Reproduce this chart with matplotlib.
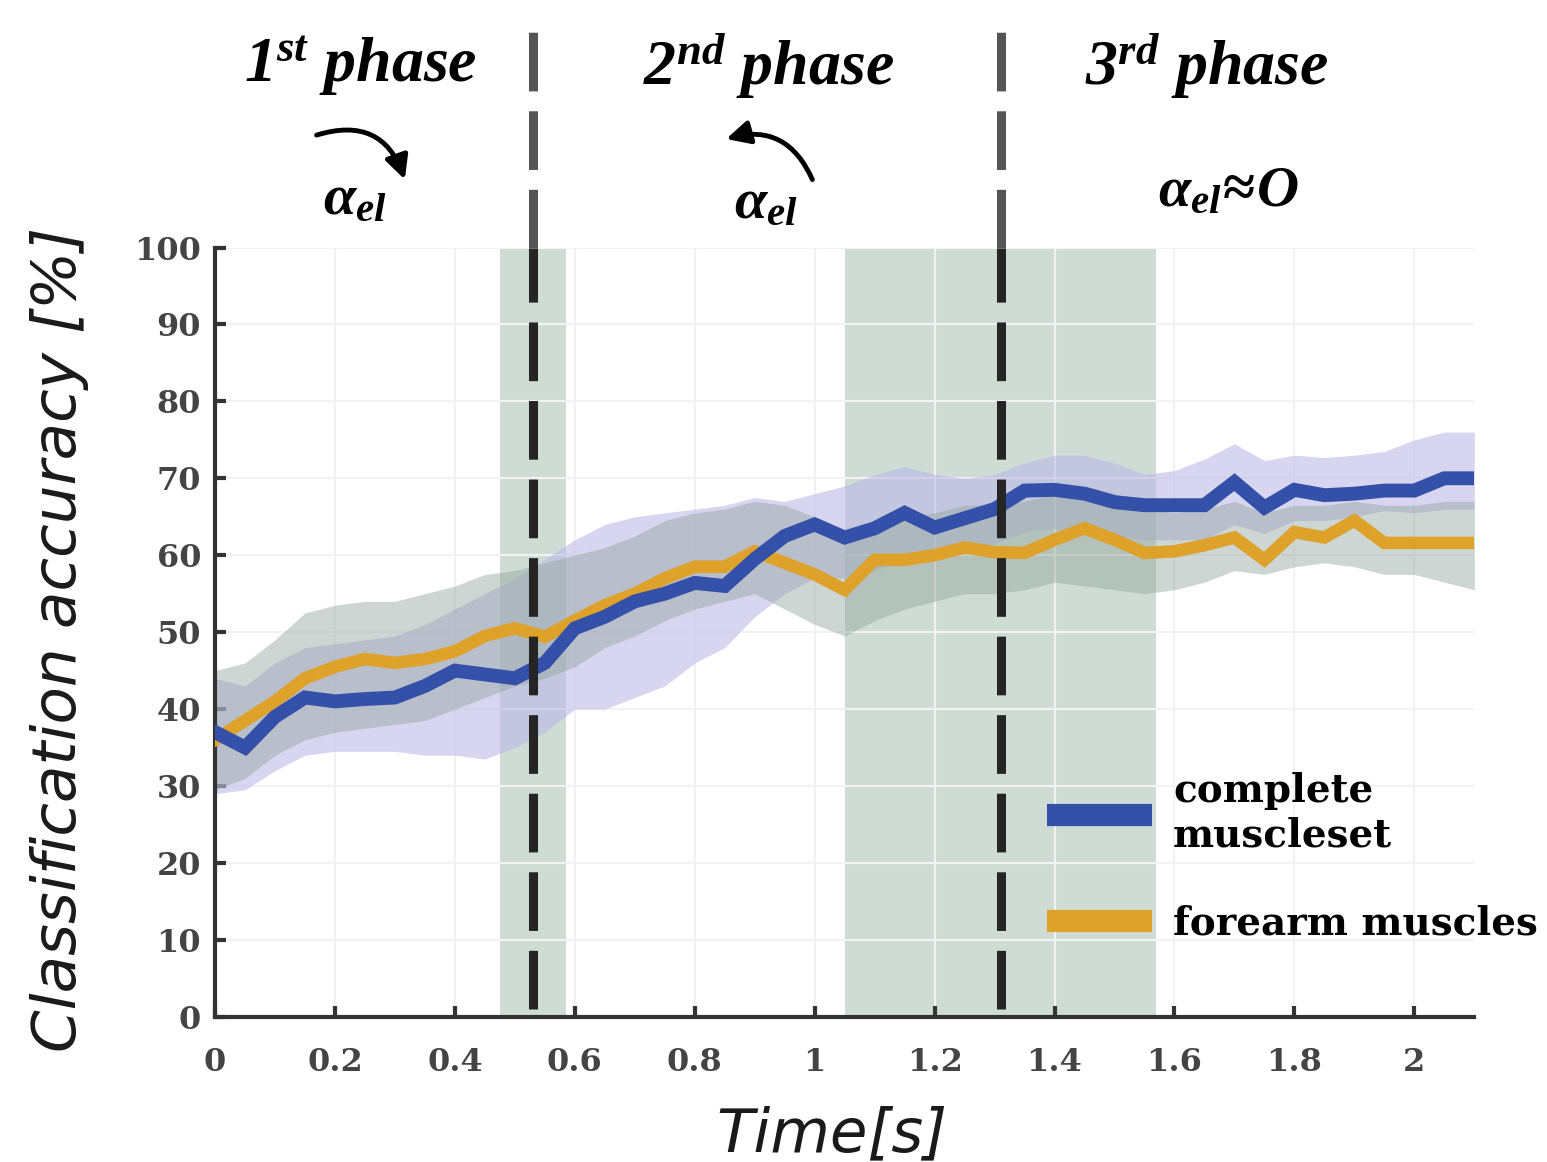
import numpy as np
import matplotlib
matplotlib.use("Agg")
import matplotlib.pyplot as plt
from matplotlib.patches import FancyArrowPatch

plt.rcParams["mathtext.fontset"] = "custom"
plt.rcParams["mathtext.it"] = "Liberation Serif:italic:bold"
plt.rcParams["mathtext.rm"] = "Liberation Serif:bold"

# time axis [s], one sample every 0.05 s
time_s = np.round(np.arange(0, 2.101, 0.05), 2)

complete_mean = [37, 35, 39, 41.5, 41, 41.3, 41.5, 43, 45, 44.5, 44, 46, 50.5, 52, 54, 55,
                 56.4, 56, 59.5, 62.5, 64, 62.3, 63.5, 65.5, 63.6, 64.8, 66, 68.4, 68.5, 68,
                 66.9, 66.5, 66.5, 66.5, 69.5, 66.2, 68.5, 67.8, 68, 68.4, 68.4, 70, 70]
complete_hi = [44, 43, 46, 48, 48.5, 49, 49.5, 51, 53, 55, 57, 59.5, 62, 64, 65, 65.5,
               66, 66.5, 67.5, 67, 68, 69, 70.5, 71.5, 70.5, 70, 70.5, 72, 73, 73,
               72, 70.5, 71, 72.5, 74.5, 72.3, 73, 72.7, 73, 73.5, 75, 76, 76]
complete_lo = [29, 29.5, 32, 34, 34.5, 34.5, 34.5, 34, 34, 33.5, 35, 37, 40, 40, 41.5, 43,
               46, 48, 52, 55, 57, 57, 58, 59.5, 59.5, 60.5, 61.5, 63, 63.5, 63,
               62.5, 62, 62, 62, 64, 62.8, 64.5, 64.5, 65, 65.8, 65.5, 66, 66]

forearm_mean = [36, 38.5, 41, 44, 45.5, 46.5, 46, 46.5, 47.5, 49.5, 50.5, 49.4, 51.5, 53.5, 55, 57,
                58.5, 58.5, 60.5, 59, 57.5, 55.5, 59.4, 59.4, 60, 61, 60.4, 60.3, 62, 63.5,
                62, 60.3, 60.5, 61.3, 62.3, 59.4, 63, 62.3, 64.5, 61.6, 61.6, 61.6, 61.6]
forearm_hi = [45, 46, 49, 52.5, 53.5, 54, 54, 55, 56, 57.5, 58, 59, 60, 61, 62.5, 64.5,
              65.5, 66, 67, 66.5, 65, 63, 64.5, 65, 65.5, 66.5, 66.5, 67, 68, 69,
              68, 66, 65.5, 66, 67, 65.5, 66.5, 66.5, 67, 66.5, 66.5, 67, 67]
forearm_lo = [29.5, 31, 34, 36, 37, 37.5, 38, 38.5, 40, 41.5, 43, 44, 45.5, 48, 49.5, 51.5,
              53, 54, 55, 53, 51, 49.5, 51.5, 53, 54, 55, 55, 55.5, 56.5, 56,
              55.5, 55, 55.5, 56.5, 58, 57.5, 58.5, 59, 58.5, 57.5, 57.5, 56.5, 55.5]

# significant windows and phase boundaries
sig_windows = [(0.475, 0.585), (1.05, 1.57)]
phase_bounds = [0.53, 1.31]

x_ticks = [0, 0.2, 0.4, 0.6, 0.8, 1, 1.2, 1.4, 1.6, 1.8, 2]
x_ticklabels = ["0", "0.2", "0.4", "0.6", "0.8", "1", "1.2", "1.4", "1.6", "1.8", "2"]
y_ticks = list(range(0, 101, 10))

BLUE = "#3550a8"
ORANGE = "#dea12a"

fig = plt.figure(figsize=(15.47, 11.62), dpi=100)
ax = fig.add_axes([0.139, 0.125, 0.814, 0.662])

for x0, x1 in sig_windows:
    ax.axvspan(x0, x1, color="#cfdcd6", lw=0, zorder=0)

ax.fill_between(time_s, complete_lo, complete_hi, color="#b8b4e6", alpha=0.55, lw=0, zorder=1)
ax.fill_between(time_s, forearm_lo, forearm_hi, color="#92a69c", alpha=0.45, lw=0, zorder=1)

ax.plot(time_s, forearm_mean, color=ORANGE, lw=9, solid_joinstyle="miter", zorder=3,
        label="forearm muscles")
ax.plot(time_s, complete_mean, color=BLUE, lw=10, solid_joinstyle="miter", zorder=4,
        label="complete\nmuscleset")

for xb in phase_bounds:
    ax.plot([xb, xb], [1, 100], color="#252525", lw=6.5, ls=(0, (6.5, 2.2)), zorder=5)
    ax.plot([xb, xb], [100, 128], color="#555555", lw=6.5, ls=(0, (6.5, 2.2)),
            clip_on=False, zorder=5)

ax.set_xlim(0, 2.1)
ax.set_ylim(0, 100)
ax.set_xticks(x_ticks)
ax.set_xticklabels(x_ticklabels)
ax.set_yticks(y_ticks)
ax.grid(True, color="#f2f2f2", lw=1.5, zorder=0)
ax.set_axisbelow(True)
for s in ["top", "right"]:
    ax.spines[s].set_visible(False)
for s in ["left", "bottom"]:
    ax.spines[s].set_color("#333333")
    ax.spines[s].set_linewidth(3)
ax.tick_params(direction="in", length=8, width=3, color="#333333", labelcolor="#444444")
ax.tick_params(axis="x", pad=22)
ax.tick_params(axis="y", pad=10)
for lbl in ax.get_xticklabels() + ax.get_yticklabels():
    lbl.set_fontfamily("DejaVu Serif")
    lbl.set_fontweight("bold")
    lbl.set_fontsize(23)

ax.set_ylabel("Classification accuracy [%]", fontsize=44, style="italic",
              fontfamily="DejaVu Sans", color="#1a1a1a")
ax.yaxis.set_label_coords(-0.1, 0.49)
ax.set_xlabel("Time[s]", fontsize=44, style="italic", fontfamily="DejaVu Sans",
              color="#1a1a1a")
ax.xaxis.set_label_coords(0.49, -0.115)

phase_font = dict(fontfamily="Liberation Serif", fontweight="bold", style="italic",
                  fontsize=46, ha="center", va="center", color="black")
ax.text(0.242, 123.5, r"1$^{st}$ phase", **phase_font)
ax.text(0.923, 123.5, r"2$^{nd}$ phase", **phase_font)
ax.text(1.653, 123.5, r"3$^{rd}$ phase", **phase_font)

alpha_font = dict(fontsize=42, ha="center", va="center", color="black")
ax.text(0.234, 106.5, r"$\alpha_{el}$", **alpha_font)
ax.text(0.918, 106.0, r"$\alpha_{el}$", **alpha_font)
ax.text(1.69, 107.5, r"$\alpha_{el}\!\approx\!O$", **alpha_font)

arrow_kw = dict(arrowstyle="-|>,head_length=0.7,head_width=0.35", lw=3.5, color="black",
                mutation_scale=20, clip_on=False)
ax.add_patch(FancyArrowPatch((0.165, 114.5), (0.318, 108.5),
                             connectionstyle="arc3,rad=-0.5", **arrow_kw))
ax.add_patch(FancyArrowPatch((0.998, 108.5), (0.848, 114.0),
                             connectionstyle="arc3,rad=0.45", **arrow_kw))

handles, labels = ax.get_legend_handles_labels()
leg = ax.legend(handles[::-1], labels[::-1], loc="upper left",
                bbox_to_anchor=(0.645, 0.343), frameon=False, borderpad=0,
                handlelength=2.7, handletextpad=0.55, labelspacing=1.3,
                prop=dict(family="DejaVu Serif", weight="bold", size=28))
for h in leg.legend_handles:
    h.set_linewidth(16)
    h.set_solid_capstyle("butt")

fig.savefig("out.png", dpi=100)
